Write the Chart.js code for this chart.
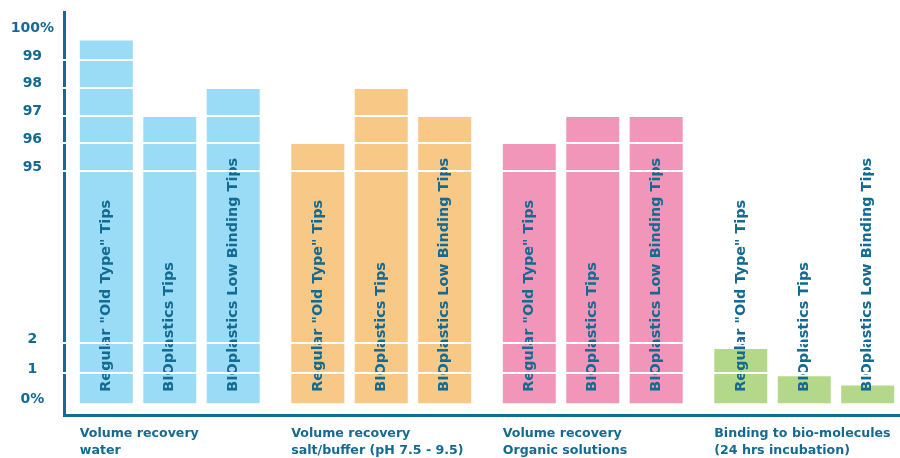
<!DOCTYPE html>
<html>
<head>
<meta charset="utf-8">
<script src="https://cdn.jsdelivr.net/npm/chart.js@4.4.1/dist/chart.umd.min.js"></script>
<style>
  html, body { margin: 0; padding: 0; background: #fff; overflow: hidden; }
  #frame { width: 900px; height: 458px; overflow: hidden; }
</style>
</head>
<body>
<div id="frame"><canvas id="recoveryChart" width="910" height="458"></canvas></div>
<script>
const groups = [
  ["Volume recovery", "water"],
  ["Volume recovery", "salt/buffer (pH 7.5 - 9.5)"],
  ["Volume recovery", "Organic solutions"],
  ["Binding to bio-molecules", "(24 hrs incubation)"],
];
const tipTypes = ['Regular "Old Type" Tips', "BIOplastics Tips", "BIOplastics Low Binding Tips"];
const regularTips = [99.7, 96, 96, 1.8];
const bioTips = [97, 98, 97, 0.9];
const lowBindingTips = [98, 97, 97, 0.6];
const groupColors = ["#9adcf6", "#f7c886", "#f196b9", "#b4d88a"];
const yTicks = [0, 1, 2, 95, 96, 97, 98, 99, 100];
const yTickLabels = ["0%", "1", "2", "95", "96", "97", "98", "99", "100%"];

const teal = "#136a92";

// value -> share of the axis height; the axis skips everything between 2 and 95
const axisBreaks = [[0, 0.028], [2, 0.179], [95, 0.605], [100, 0.950]];

function segmentFor(v, col) {
  let i = 0;
  while (i < axisBreaks.length - 2 && v > axisBreaks[i + 1][col]) i++;
  return [axisBreaks[i], axisBreaks[i + 1]];
}
function toDecimal(v) {
  const [[v0, d0], [v1, d1]] = segmentFor(v, 0);
  return d0 + (v - v0) * (d1 - d0) / (v1 - v0);
}
function fromDecimal(d) {
  const [[v0, d0], [v1, d1]] = segmentFor(d, 1);
  return v0 + (d - d0) * (v1 - v0) / (d1 - d0);
}

class BrokenLinearScale extends Chart.LinearScale {
  buildTicks() {
    return yTicks.map(v => ({ value: v }));
  }
  getPixelForValue(value) {
    return value === null ? NaN : this.getPixelForDecimal(toDecimal(value));
  }
  getValueForPixel(pixel) {
    return fromDecimal(this.getDecimalForPixel(pixel));
  }
}
BrokenLinearScale.id = "brokenLinear";
BrokenLinearScale.defaults = Chart.LinearScale.defaults;
Chart.registry.addScales(BrokenLinearScale);

// white rules laid over the bars and the axis line
const whiteRules = {
  id: "whiteRules",
  afterDraw(chart) {
    const { ctx, chartArea } = chart;
    const y = chart.scales.y;
    ctx.save();
    ctx.strokeStyle = "#ffffff";
    ctx.lineWidth = 2;
    yTicks.forEach(v => {
      if (v <= yTicks[0] || v >= yTicks[yTicks.length - 1]) return;
      const py = Math.round(y.getPixelForValue(v));
      ctx.beginPath();
      ctx.moveTo(chartArea.left - 4, py);
      ctx.lineTo(chartArea.right, py);
      ctx.stroke();
    });
    ctx.restore();
  }
};

// tip names written upward inside each bar
const barNames = {
  id: "barNames",
  afterDatasetsDraw(chart) {
    const { ctx } = chart;
    const base = chart.scales.y.getPixelForValue(0);
    chart.data.datasets.forEach((ds, i) => {
      chart.getDatasetMeta(i).data.forEach(bar => {
        ctx.save();
        ctx.translate(bar.x, base - 12);
        ctx.rotate(-Math.PI / 2);
        ctx.font = "bold 14.4px 'DejaVu Sans'";
        ctx.fillStyle = teal;
        ctx.textAlign = "left";
        ctx.textBaseline = "middle";
        ctx.fillText(ds.label, 0, 0);
        ctx.restore();
      });
    });
  }
};

// keep the axes from reserving room for overhanging labels
const noLabelPadding = scale => {
  scale.paddingLeft = 0;
  scale.paddingRight = 0;
  scale.paddingTop = 0;
  scale.paddingBottom = 0;
};

new Chart(document.getElementById("recoveryChart"), {
  type: "bar",
  data: {
    labels: groups,
    datasets: [
      { label: tipTypes[0], data: regularTips, backgroundColor: groupColors },
      { label: tipTypes[1], data: bioTips, backgroundColor: groupColors },
      { label: tipTypes[2], data: lowBindingTips, backgroundColor: groupColors },
    ],
  },
  options: {
    responsive: false,
    devicePixelRatio: 1,
    animation: false,
    categoryPercentage: 0.9,
    barPercentage: 0.835,
    layout: { padding: { top: 12, left: 0, right: 0, bottom: 0 } },
    plugins: {
      legend: { display: false },
      tooltip: { enabled: false },
    },
    scales: {
      x: {
        grid: { display: true, color: "transparent", drawTicks: false },
        border: { display: true, color: teal, width: 3 },
        ticks: {
          color: teal,
          font: { family: "'DejaVu Sans'", size: 12.6, weight: "bold", lineHeight: 1.35 },
          align: "start",
          labelOffset: -90,
          padding: 10,
          maxRotation: 0,
          minRotation: 0,
          autoSkip: false,
        },
        afterFit: scale => {
          scale.height = 43;
          noLabelPadding(scale);
        },
      },
      y: {
        type: "brokenLinear",
        min: 0,
        max: 100,
        grid: { display: true, color: "transparent", drawTicks: false },
        border: { display: true, color: teal, width: 3 },
        ticks: {
          color: teal,
          font: { family: "'DejaVu Sans'", size: 14, weight: "bold" },
          crossAlign: "center",
          padding: 10,
          labelOffset: -4,
          autoSkip: false,
          callback: value => yTickLabels[yTicks.indexOf(value)],
        },
        afterFit: scale => {
          scale.width = 64;
          noLabelPadding(scale);
        },
      },
    },
  },
  plugins: [barNames, whiteRules],
});
</script>
</body>
</html>
